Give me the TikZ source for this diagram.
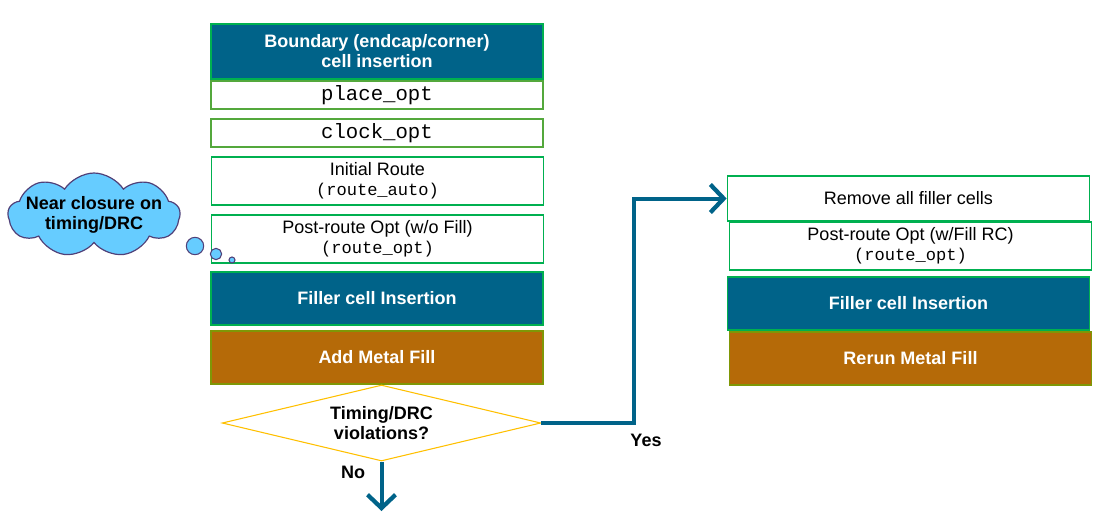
\documentclass[tikz,border=0pt]{standalone}
\usepackage{fontspec}
\setmainfont{Liberation Sans}
\setmonofont{Liberation Mono}
\usetikzlibrary{arrows.meta}
\usetikzlibrary{shapes.geometric,shapes.symbols}

\definecolor{flowteal}{RGB}{0,99,137}
\definecolor{metalbrown}{RGB}{181,106,8}
\definecolor{boxgreen}{RGB}{0,176,80}
\definecolor{cmdgreen}{RGB}{84,168,60}
\definecolor{cloudblue}{RGB}{102,204,255}
\definecolor{cloudline}{RGB}{80,64,120}
\definecolor{decision}{RGB}{255,192,0}

\begin{document}
\begin{tikzpicture}[
  x=0.75pt,y=-0.75pt,
  txt/.style={font=\fontsize{13.5}{15}\selectfont},
  bold/.style={font=\fontsize{13.5}{15}\selectfont\bfseries},
  box/.style={txt,draw=boxgreen,line width=0.8pt,fill=white,inner sep=0pt,align=center,minimum width=249pt},
  cmdbox/.style={box,draw=cmdgreen,line width=1.6pt,font=\fontsize{15.5}{17}\ttfamily,minimum height=21pt},
  darkbox/.style={box,bold,fill=flowteal,text=white,minimum height=39.75pt},
  metalbox/.style={box,bold,fill=metalbrown,draw=metalbrown!70!green,text=white,minimum height=39.75pt},
  wide/.style={minimum width=272pt},
  flow/.style={draw=flowteal,line width=3pt,-{Straight Barb[length=10pt,width=21pt,line width=3.2pt]}},
  bubble/.style={circle,draw=cloudline,line width=0.8pt,fill=cloudblue,inner sep=0pt}
]
  \def\cmd#1{{\fontsize{12.8}{15}\ttfamily #1}}
  \useasboundingbox (0,0) rectangle (1108,522);

  % left column
  \node[darkbox,minimum height=41.25pt,draw=boxgreen] (bound) at (377,51.5) {Boundary (endcap/corner)\\cell insertion};
  \node[cmdbox] (place) at (377,95) {place\_opt};
  \node[cmdbox] (clock) at (377,133) {clock\_opt};
  \node[box,minimum height=36pt] (route) at (377.5,181) {Initial Route\\\cmd{(route\_auto)}};
  \node[box,minimum height=36pt] (post) at (377.5,239) {Post-route Opt (w/o Fill)\\\cmd{(route\_opt)}};
  \node[darkbox,draw=boxgreen] (filler) at (377,298.5) {Filler cell Insertion};
  \node[metalbox] (metal) at (377,357.5) {Add Metal Fill};
  \node[diamond,aspect=4.2,draw=decision,line width=0.8pt,fill=white,bold,align=center,inner sep=0pt,
        minimum width=239pt,minimum height=57pt] (check) at (381.5,423) {Timing/DRC\\violations?};

  % right column
  \node[box,wide,minimum height=33.75pt] (remove) at (908.5,198.5) {Remove all filler cells};
  \node[box,wide,minimum height=36pt] (repost) at (910.5,246) {Post-route Opt (w/Fill RC)\\\cmd{(route\_opt)}};
  \node[darkbox,wide,draw=boxgreen] (refill) at (908.5,303.5) {Filler cell Insertion};
  \node[metalbox,wide] (remetal) at (910.5,358.5) {Rerun Metal Fill};

  % thought cloud
  \node[cloud,cloud puffs=9,cloud puff arc=115,cloud ignores aspect,draw=cloudline,line width=0.9pt,fill=cloudblue,
        inner xsep=-14pt,inner ysep=-4pt,minimum width=129pt,minimum height=63pt,
        bold,align=center] (note) at (94,215) {Near closure on\\timing/DRC};
  \node[bubble,minimum size=13pt] (b1) at (195,246) {};
  \node[bubble,minimum size=8.5pt] (b2) at (216,254) {};
  \node[bubble,minimum size=4.5pt] (b3) at (232,260) {};

  % connectors
  \coordinate (exit) at (381.5,511);
  \draw[flow] (check.south) -- (exit);
  \node[bold] (no) at (353,472) {No};
  \draw[flow] (check.east) -- (634,423) |- (remove.west);
  \node[bold] (yes) at (646,440) {Yes};
\end{tikzpicture}
\end{document}
